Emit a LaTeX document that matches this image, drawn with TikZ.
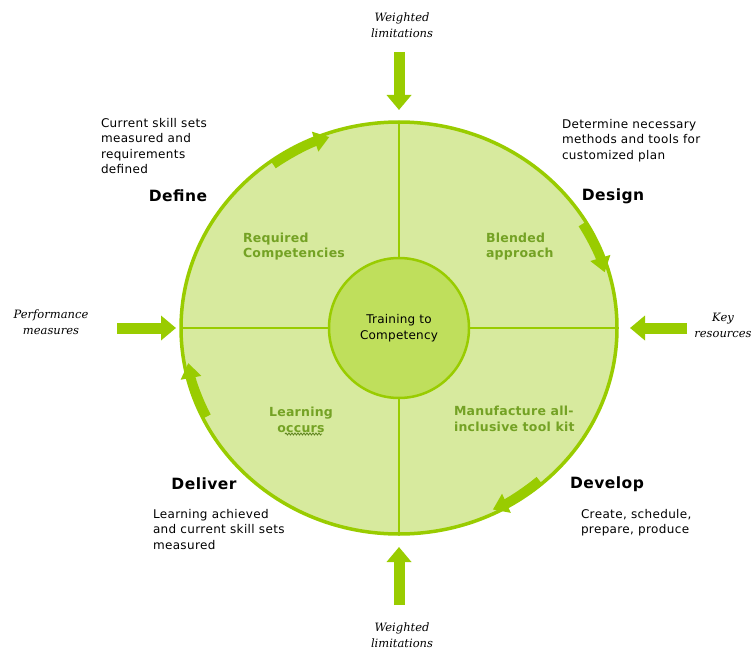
\documentclass[tikz,border=0pt]{standalone}
\usepackage{fontspec}
\setsansfont{DejaVu Sans}
\newfontfamily\capfont{DejaVu Serif}
\usetikzlibrary{arrows.meta, calc, positioning, decorations.pathmorphing}
\definecolor{ring}{HTML}{99CC00}
\definecolor{pale}{HTML}{D7EA9E}
\definecolor{core}{HTML}{BFDF5C}
\definecolor{leaf}{HTML}{74A224}

\begin{document}
\begin{tikzpicture}[x=1pt, y=-1pt, % pixel grid, y pointing down
every node/.style = {inner sep=0pt, outer sep=0pt},
     feed/.style = {draw=ring, line width=11pt,
                    -{Triangle[width=24pt, length=15pt]}},
     turn/.style = {draw=ring, line width=9pt,
                    -{Triangle[width=20pt, length=15pt]}},
    split/.style = {draw=ring, line width=2pt},
    phase/.style = {font=\sffamily\bfseries\fontsize{15.5}{18}\selectfont\addfontfeature{LetterSpace=3}},
     note/.style = {font=\sffamily\fontsize{12}{15.5}\selectfont\addfontfeature{LetterSpace=3},
                    align=left, anchor=north west},
     task/.style = {note, text=leaf,
                    font=\sffamily\bfseries\fontsize{12.5}{15.5}\selectfont\addfontfeature{LetterSpace=2}},
    input/.style = {font=\capfont\itshape\fontsize{11.5}{16}\selectfont, align=center}
                    ]
	\useasboundingbox (0,0) rectangle (754,650);

	% the wheel
	\coordinate (C) at (399,328);
	\coordinate (n) at (399,122);
	\coordinate (s) at (399,534);
	\coordinate (w) at (181,328);
	\coordinate (e) at (617,328);

	\fill[pale] (C) ellipse [x radius=218pt, y radius=206pt];
	\draw[split] (n) -- (s) (w) -- (e);
	\draw[ring, line width=3.5pt] (C) ellipse [x radius=218pt, y radius=206pt];
	\node[circle, draw=ring, line width=2.5pt, fill=core, minimum size=140pt,
	      align=center, font=\sffamily\fontsize{12}{15.5}\selectfont\addfontfeature{LetterSpace=2}]
	      (hub) at (C) {Training to\\Competency};

	% arrows running round the rim, just inside it
	\draw[turn] ($(C)+(126:214pt and 202pt)$) arc [start angle=126, end angle=109, x radius=214pt, y radius=202pt];
	\draw[turn] ($(C)+(31:214pt and 202pt)$)  arc [start angle=31,  end angle=16,  x radius=214pt, y radius=202pt];
	\draw[turn] ($(C)+(-49:214pt and 202pt)$) arc [start angle=-49, end angle=-64, x radius=214pt, y radius=202pt];
	\draw[turn] ($(C)+(206:214pt and 202pt)$) arc [start angle=206, end angle=190, x radius=214pt, y radius=202pt];

	% inputs
	\node[input] (lim-top) at (402,25)  {Weighted\\limitations};
	\node[input] (lim-bot) at (402,635) {Weighted\\limitations};
	\node[input] (perf)    at (51,322)  {Performance\\measures};
	\node[input] (keyres)  at (723,325) {Key\\resources};

	\coordinate (lim-top-a) at (399,52);
	\coordinate (lim-top-b) at (399,110);
	\coordinate (lim-bot-a) at (399,605);
	\coordinate (lim-bot-b) at (399,547);
	\coordinate (perf-a)    at (117,328);
	\coordinate (perf-b)    at (176,328);
	\coordinate (keyres-a)  at (687,328);
	\coordinate (keyres-b)  at (630,328);

	\draw[feed] (lim-top-a) -- (lim-top-b);
	\draw[feed] (lim-bot-a) -- (lim-bot-b);
	\draw[feed] (perf-a)    -- (perf-b);
	\draw[feed] (keyres-a)  -- (keyres-b);

	% phases
	\node[phase] (define)  at (178,196) {Define};
	\node[phase] (design)  at (613,196) {Design};
	\node[phase] (deliver) at (204,484) {Deliver};
	\node[phase] (develop) at (607,484) {Develop};

	\node[note] (define-txt)  at (101,118) {Current skill sets\\measured and\\requirements\\defined};
	\node[note] (design-txt)  at (562,119) {Determine necessary\\methods and tools for\\customized plan};
	\node[note] (deliver-txt) at (153,509) {Learning achieved\\and current skill sets\\measured};
	\node[note] (develop-txt) at (581,509) {Create, schedule,\\prepare, produce};

	% quarters
	\node[task] (req)   at (243,233) {Required\\Competencies};
	\node[task] (blend) at (486,233) {Blended\\approach};
	\node[task] (manu)  at (454,406) {Manufacture all-\\inclusive tool kit};
	\node[task, anchor=center, align=center] (learn) at (301,420) {Learning\\occurs};
	\draw[leaf!80!black, line width=0.8pt,
	      decorate, decoration={snake, amplitude=1pt, segment length=3pt}]
	      (285,434) -- (322,434);
\end{tikzpicture}
\end{document}
